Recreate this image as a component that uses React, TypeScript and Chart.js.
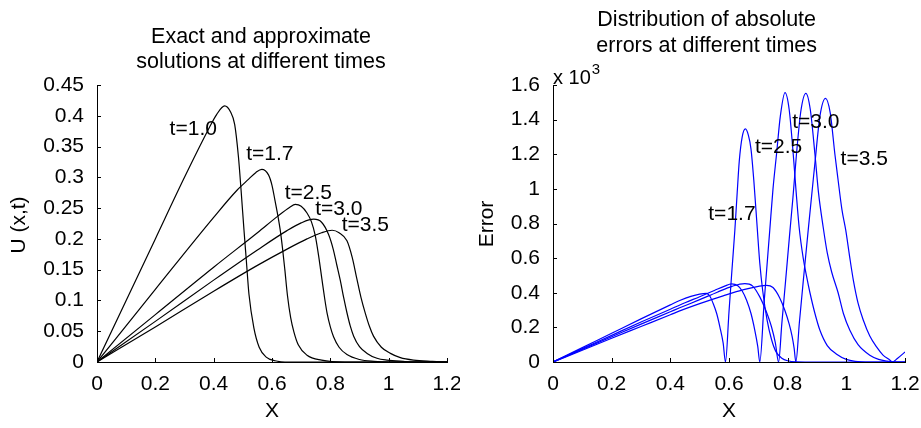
import React, { useEffect, useRef } from "react";
import { Chart, registerables } from "chart.js";

Chart.register(...registerables);

const FONT = '"Liberation Sans", Arial, Helvetica, sans-serif';

// ---------- axes ----------
const X_TICKS = [0, 0.2, 0.4, 0.6, 0.8, 1, 1.2];
const U_TICKS = [0, 0.05, 0.1, 0.15, 0.2, 0.25, 0.3, 0.35, 0.4, 0.45];
const ERR_TICKS = [0, 0.2, 0.4, 0.6, 0.8, 1, 1.2, 1.4, 1.6];

// ---------- left panel: U(x,t) ----------
const U_LABELS = ["t=1.0", "t=1.7", "t=2.5", "t=3.0", "t=3.5"];
const U_T10 = [[0,0],[0.1,0.1],[0.2,0.2],[0.3,0.3],[0.38,0.376],[0.41,0.402],[0.4375,0.416],[0.458,0.406],[0.472,0.386],[0.485,0.333],[0.494,0.279],[0.504,0.214],[0.512,0.165],[0.521,0.11],[0.538,0.055],[0.556,0.024],[0.58,0.008],[0.61,0.002],[0.66,0],[1.2,0]];
const U_T17 = [[0,0],[0.2,0.118],[0.4,0.235],[0.48,0.279],[0.52,0.297],[0.545,0.308],[0.565,0.313],[0.588,0.304],[0.6,0.287],[0.61,0.263],[0.62,0.238],[0.628,0.215],[0.636,0.185],[0.644,0.15],[0.653,0.108],[0.664,0.072],[0.675,0.049],[0.69,0.028],[0.72,0.011],[0.77,0.003],[0.85,0],[1.2,0]];
const U_T25 = [[0,0],[0.2,0.077],[0.4,0.154],[0.55,0.21],[0.62,0.237],[0.66,0.251],[0.68,0.256],[0.7,0.253],[0.72,0.242],[0.735,0.228],[0.748,0.206],[0.76,0.172],[0.771,0.135],[0.781,0.102],[0.789,0.079],[0.8,0.057],[0.811,0.041],[0.83,0.024],[0.857,0.012],[0.9,0.004],[0.95,0.001],[1.0,0],[1.2,0]];
const U_T30 = [[0,0],[0.2,0.066],[0.4,0.133],[0.55,0.182],[0.65,0.213],[0.7,0.226],[0.743,0.232],[0.77,0.227],[0.794,0.207],[0.81,0.183],[0.822,0.158],[0.834,0.133],[0.846,0.104],[0.857,0.08],[0.868,0.059],[0.88,0.042],[0.9,0.025],[0.926,0.014],[0.96,0.006],[0.994,0.003],[1.05,0.001],[1.1,0],[1.2,0]];
const U_T35 = [[0,0],[0.2,0.057],[0.4,0.115],[0.55,0.157],[0.65,0.183],[0.72,0.2],[0.77,0.21],[0.806,0.214],[0.83,0.21],[0.857,0.197],[0.875,0.17],[0.891,0.135],[0.905,0.105],[0.92,0.079],[0.934,0.058],[0.948,0.042],[0.975,0.024],[1.006,0.014],[1.04,0.007],[1.085,0.003],[1.15,0.001],[1.2,0]];

// ---------- right panel: absolute error (x 10^3) ----------
const ERR_LABELS = ["t=1.7", "t=2.5", "t=3.0", "t=3.5"];
const ERR_T17 = [[0,0],[0.1,0.083],[0.2,0.166],[0.3,0.249],[0.4,0.33],[0.432,0.355],[0.47,0.379],[0.5,0.392],[0.523,0.396],[0.535,0.38],[0.546,0.338],[0.558,0.28],[0.569,0.202],[0.58,0.11],[0.588,0],[0.6,0.29],[0.61,0.53],[0.62,0.762],[0.628,0.98],[0.635,1.16],[0.645,1.3],[0.656,1.346],[0.666,1.31],[0.675,1.23],[0.685,1.04],[0.696,0.78],[0.705,0.57],[0.715,0.41],[0.73,0.24],[0.745,0.13],[0.76,0.06],[0.78,0.022],[0.8,0.007],[0.83,0.001],[0.9,0],[1.2,0]];
const ERR_T25 = [[0,0],[0.1,0.077],[0.2,0.154],[0.3,0.231],[0.4,0.305],[0.45,0.342],[0.5,0.377],[0.55,0.413],[0.585,0.438],[0.609,0.451],[0.63,0.44],[0.645,0.41],[0.66,0.357],[0.675,0.28],[0.688,0.183],[0.698,0.09],[0.705,0],[0.72,0.35],[0.739,0.762],[0.75,1.0],[0.762,1.2],[0.775,1.42],[0.791,1.556],[0.805,1.46],[0.819,1.2],[0.829,0.98],[0.839,0.78],[0.853,0.6],[0.865,0.49],[0.876,0.4],[0.893,0.28],[0.91,0.183],[0.935,0.095],[0.967,0.045],[1.0,0.015],[1.03,0.004],[1.08,0],[1.2,0]];
const ERR_T30 = [[0,0],[0.1,0.073],[0.2,0.146],[0.3,0.219],[0.4,0.29],[0.432,0.313],[0.5,0.36],[0.56,0.403],[0.61,0.437],[0.654,0.453],[0.68,0.44],[0.705,0.376],[0.725,0.3],[0.745,0.202],[0.758,0.11],[0.769,0],[0.78,0.22],[0.793,0.47],[0.808,0.762],[0.818,0.95],[0.83,1.2],[0.845,1.45],[0.862,1.552],[0.877,1.46],[0.893,1.2],[0.905,0.98],[0.921,0.78],[0.935,0.63],[0.95,0.52],[0.972,0.4],[0.99,0.28],[1.012,0.183],[1.04,0.1],[1.08,0.039],[1.11,0.015],[1.138,0.005],[1.17,0],[1.2,0]];
const ERR_T35 = [[0,0],[0.1,0.068],[0.2,0.137],[0.3,0.205],[0.4,0.273],[0.432,0.295],[0.5,0.337],[0.58,0.382],[0.65,0.418],[0.7,0.437],[0.728,0.443],[0.75,0.43],[0.773,0.37],[0.79,0.3],[0.805,0.22],[0.815,0.15],[0.822,0.08],[0.828,0],[0.84,0.23],[0.855,0.5],[0.87,0.762],[0.887,1.05],[0.893,1.15],[0.91,1.42],[0.929,1.523],[0.945,1.44],[0.961,1.2],[0.972,1.05],[0.985,0.88],[0.998,0.762],[1.012,0.6],[1.024,0.472],[1.04,0.34],[1.058,0.241],[1.08,0.15],[1.103,0.087],[1.125,0.04],[1.149,0.01],[1.156,0],[1.175,0.022],[1.2,0.058]];

const fmt = (v: number) => String(+Number(v).toFixed(2));

const annotPlugin = {
  id: "annot",
  afterDraw(chart: any, _args: any, opts: any) {
    const ctx = chart.ctx as CanvasRenderingContext2D;
    const { left, bottom } = chart.chartArea;
    const xs = chart.scales.x;
    const ys = chart.scales.y;
    ctx.save();
    // inward tick marks
    ctx.strokeStyle = "#000";
    ctx.lineWidth = 1;
    ctx.beginPath();
    for (const t of xs.ticks) {
      const p = Math.round(xs.getPixelForValue(t.value)) + 0.5;
      ctx.moveTo(p, bottom);
      ctx.lineTo(p, bottom - opts.tickLen);
    }
    for (const t of ys.ticks) {
      const p = Math.round(ys.getPixelForValue(t.value)) + 0.5;
      ctx.moveTo(left, p);
      ctx.lineTo(left + opts.tickLen, p);
    }
    ctx.stroke();

    ctx.fillStyle = "#000";
    // panel title
    ctx.font = `${opts.titleSize}px ${FONT}`;
    ctx.textAlign = "center";
    ctx.textBaseline = "alphabetic";
    opts.title.forEach((line: string, i: number) => ctx.fillText(line, opts.titleX, opts.titleY[i]));

    // axis titles
    ctx.font = `${opts.axisSize}px ${FONT}`;
    ctx.textBaseline = "middle";
    ctx.fillText(opts.xTitle, (chart.chartArea.left + chart.chartArea.right) / 2, opts.xTitleY);
    ctx.save();
    ctx.translate(opts.yTitleX, opts.yTitleY);
    ctx.rotate(-Math.PI / 2);
    ctx.fillText(opts.yTitle, 0, 0);
    ctx.restore();

    // curve labels (data coordinates)
    ctx.font = `${opts.labelSize}px ${FONT}`;
    opts.labels.forEach((l: any) => {
      ctx.fillText(l.text, xs.getPixelForValue(l.x), ys.getPixelForValue(l.y));
    });

    // exponent
    if (opts.exponent) {
      const e = opts.exponent;
      ctx.textAlign = "left";
      ctx.textBaseline = "alphabetic";
      ctx.font = `${e.size}px ${FONT}`;
      ctx.fillText(e.base, e.x, e.y);
      const w = ctx.measureText(e.base).width;
      ctx.font = `${e.supSize}px ${FONT}`;
      ctx.fillText(e.sup, e.x + w + 1, e.y - e.supRise);
    }
    ctx.restore();
  },
};

function makeConfig(p: any) {
  return {
    type: "line",
    data: {
      datasets: p.series.map((s: number[][]) => ({
        data: s.map(([x, y]) => ({ x, y })),
        borderColor: p.color,
        borderWidth: 1.2,
        pointRadius: 0,
        fill: false,
        tension: 0.4,
        cubicInterpolationMode: "monotone",
      })),
    },
    options: {
      responsive: false,
      animation: false,
      devicePixelRatio: 1,
      events: [],
      layout: { padding: { top: p.top, right: p.right, left: 0, bottom: 0 } },
      plugins: {
        legend: { display: false },
        tooltip: { enabled: false },
        title: { display: false },
        annot: p.annot,
      },
      scales: {
        x: {
          type: "linear",
          min: 0,
          max: 1.2,
          afterBuildTicks: (s: any) => { s.ticks = X_TICKS.map((value) => ({ value })); },
          afterFit: (s: any) => { s.height = p.xHeight; s.paddingRight = 0; s.paddingLeft = 0; },
          grid: { display: true, drawOnChartArea: false, drawTicks: false },
          border: { display: true, color: "#000", width: 1 },
          ticks: { color: "#000", padding: 10, font: { family: FONT, size: 21 }, maxRotation: 0, callback: (v: number) => fmt(v) },
        },
        y: {
          type: "linear",
          min: 0,
          max: p.yMax,
          afterBuildTicks: (s: any) => { s.ticks = p.yTicks.map((value: number) => ({ value })); },
          afterFit: (s: any) => { s.width = p.yWidth; },
          grid: { display: true, drawOnChartArea: false, drawTicks: false },
          border: { display: true, color: "#000", width: 1 },
          ticks: { color: "#000", padding: 13, font: { family: FONT, size: 21 }, callback: (v: number) => fmt(v) },
        },
      },
    },
    plugins: [annotPlugin],
  } as any;
}

export default function App() {
  const leftRef = useRef<HTMLCanvasElement>(null);
  const rightRef = useRef<HTMLCanvasElement>(null);

  useEffect(() => {
    const left = new Chart(
      leftRef.current!,
      makeConfig({
        series: [U_T10, U_T17, U_T25, U_T30, U_T35],
        color: "#000",
        top: 85,
        right: 13,
        xHeight: 66,
        yWidth: 97,
        yMax: 0.45,
        yTicks: U_TICKS,
        annot: {
          tickLen: 4,
          titleSize: 21.5,
          title: ["Exact and approximate", "solutions at different times"],
          titleX: 261,
          titleY: [43, 68],
          axisSize: 21,
          xTitle: "X",
          xTitleY: 411,
          yTitle: "U (x,t)",
          yTitleX: 19,
          yTitleY: 225,
          labelSize: 21,
          labels: [
            { text: U_LABELS[0], x: 0.33, y: 0.378 },
            { text: U_LABELS[1], x: 0.5925, y: 0.337 },
            { text: U_LABELS[2], x: 0.7245, y: 0.275 },
            { text: U_LABELS[3], x: 0.829, y: 0.248 },
            { text: U_LABELS[4], x: 0.92, y: 0.2215 },
          ],
        },
      })
    );
    const right = new Chart(
      rightRef.current!,
      makeConfig({
        series: [ERR_T17, ERR_T25, ERR_T30, ERR_T35],
        color: "#0000ff",
        top: 85,
        right: 16,
        xHeight: 66,
        yWidth: 93,
        yMax: 1.6,
        yTicks: ERR_TICKS,
        annot: {
          tickLen: 4,
          titleSize: 21.5,
          title: ["Distribution of absolute", "errors at different times"],
          titleX: 246.7,
          titleY: [26, 52],
          axisSize: 21,
          xTitle: "X",
          xTitleY: 411,
          yTitle: "Error",
          yTitleX: 27,
          yTitleY: 224,
          labelSize: 21,
          labels: [
            { text: ERR_LABELS[0], x: 0.61, y: 0.851 },
            { text: ERR_LABELS[1], x: 0.769, y: 1.239 },
            { text: ERR_LABELS[2], x: 0.896, y: 1.383 },
            { text: ERR_LABELS[3], x: 1.061, y: 1.172 },
          ],
          exponent: { base: "x 10", sup: "3", x: 93, y: 84, size: 20, supSize: 15, supRise: 10 },
        },
      })
    );
    return () => {
      left.destroy();
      right.destroy();
    };
  }, []);

  return (
    <div style={{ position: "absolute", left: 0, top: 0, width: 921, height: 428, background: "#fff" }}>
      <canvas ref={leftRef} width={460} height={428} style={{ position: "absolute", left: 0, top: 0, width: 460, height: 428 }} />
      <canvas ref={rightRef} width={461} height={428} style={{ position: "absolute", left: 460, top: 0, width: 461, height: 428 }} />
    </div>
  );
}
